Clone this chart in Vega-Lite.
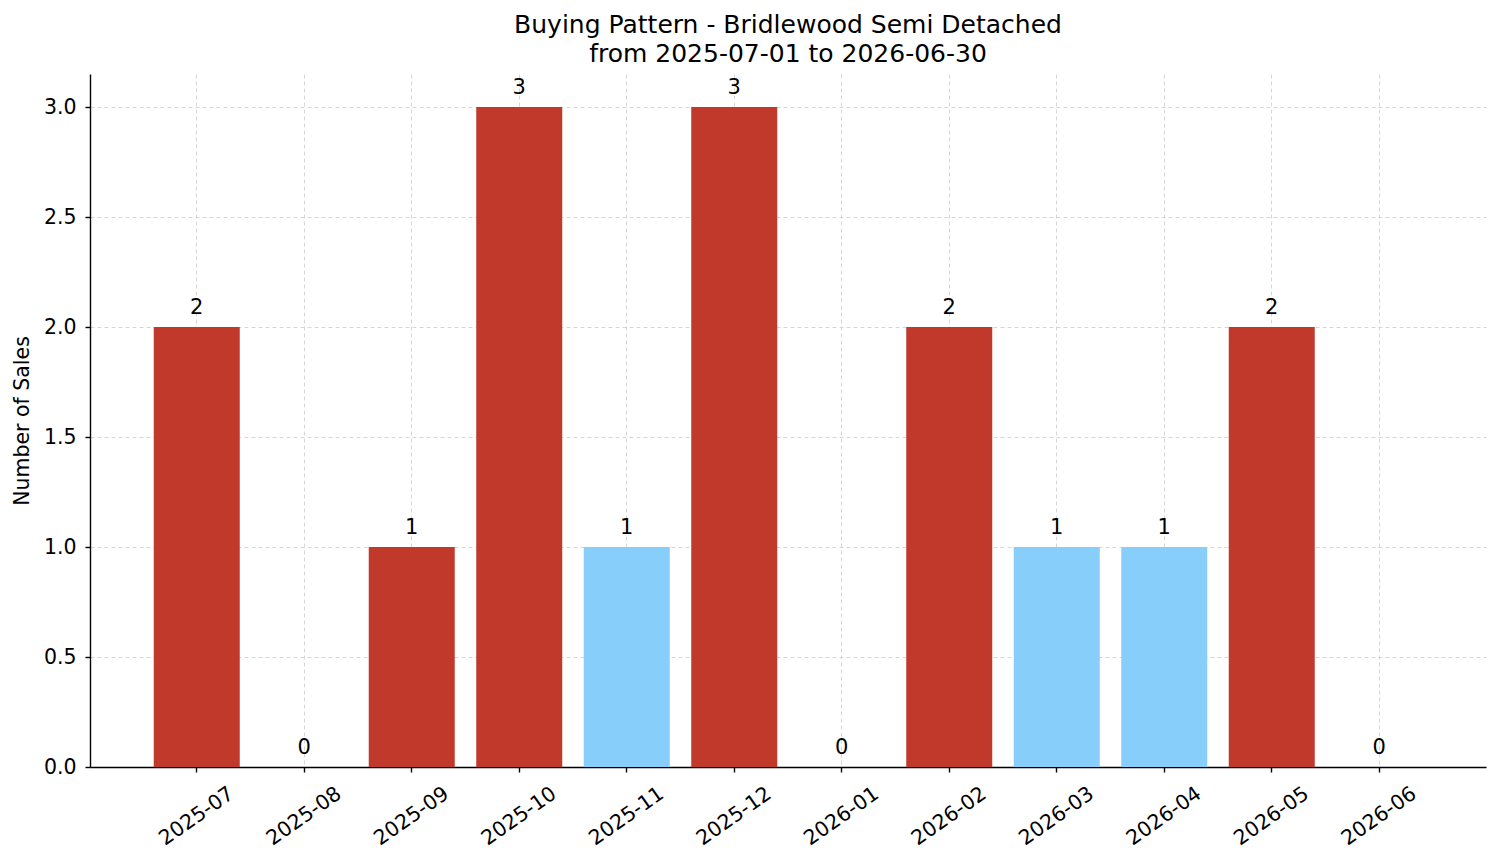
{
  "$schema": "https://vega.github.io/schema/vega-lite/v6.json",
  "width": 1396,
  "height": 693,
  "autosize": {"type": "none"},
  "padding": {"left": 90, "top": 74, "right": 15, "bottom": 96},
  "background": "white",
  "title": {
    "text": ["Buying Pattern - Bridlewood Semi Detached", "from 2025-07-01 to 2026-06-30"],
    "font": "DejaVu Sans",
    "fontSize": 25,
    "fontWeight": "normal",
    "color": "#000000",
    "lineHeight": 29,
    "anchor": "middle",
    "offset": 7
  },
  "data": {
    "values": [
      {"month": "2025-07", "sales": 2, "kind": "high"},
      {"month": "2025-08", "sales": 0, "kind": "high"},
      {"month": "2025-09", "sales": 1, "kind": "high"},
      {"month": "2025-10", "sales": 3, "kind": "high"},
      {"month": "2025-11", "sales": 1, "kind": "low"},
      {"month": "2025-12", "sales": 3, "kind": "high"},
      {"month": "2026-01", "sales": 0, "kind": "high"},
      {"month": "2026-02", "sales": 2, "kind": "high"},
      {"month": "2026-03", "sales": 1, "kind": "low"},
      {"month": "2026-04", "sales": 1, "kind": "low"},
      {"month": "2026-05", "sales": 2, "kind": "high"},
      {"month": "2026-06", "sales": 0, "kind": "high"}
    ]
  },
  "config": {
    "view": {"stroke": null},
    "axis": {
      "labelFont": "DejaVu Sans",
      "labelFontSize": 20.5,
      "labelColor": "#000000",
      "titleFont": "DejaVu Sans",
      "titleFontSize": 20.5,
      "titleFontWeight": "normal",
      "titleColor": "#000000",
      "domainColor": "#000000",
      "domainWidth": 1.4,
      "tickColor": "#000000",
      "tickWidth": 1.4,
      "tickSize": 5,
      "gridColor": "#cccccc",
      "gridDash": [4, 3],
      "gridWidth": 0.8,
      "zindex": 1
    }
  },
  "encoding": {
    "x": {
      "field": "month",
      "type": "ordinal",
      "sort": null,
      "scale": {"paddingInner": 0.2, "paddingOuter": 0.593},
      "axis": {
        "title": null,
        "grid": true,
        "bandPosition": 0.5,
        "labelAngle": -35,
        "labelAlign": "center",
        "labelBaseline": "middle",
        "labelPadding": 44
      }
    },
    "y": {
      "field": "sales",
      "type": "quantitative",
      "scale": {"domain": [0, 3.15], "nice": false, "zero": true},
      "axis": {
        "title": "Number of Sales",
        "values": [0, 0.5, 1, 1.5, 2, 2.5, 3],
        "format": ".1f",
        "grid": true,
        "labelPadding": 9,
        "titlePadding": 11
      }
    }
  },
  "layer": [
    {
      "mark": {"type": "bar"},
      "encoding": {
        "color": {
          "field": "kind",
          "type": "nominal",
          "scale": {"domain": ["high", "low"], "range": ["#c0392b", "#87cefa"]},
          "legend": null
        }
      }
    },
    {
      "mark": {
        "type": "text",
        "font": "DejaVu Sans",
        "fontSize": 21,
        "color": "#000000",
        "baseline": "alphabetic",
        "align": "center",
        "dy": -13
      },
      "encoding": {
        "text": {"field": "sales", "type": "quantitative", "format": "d"}
      }
    }
  ]
}
